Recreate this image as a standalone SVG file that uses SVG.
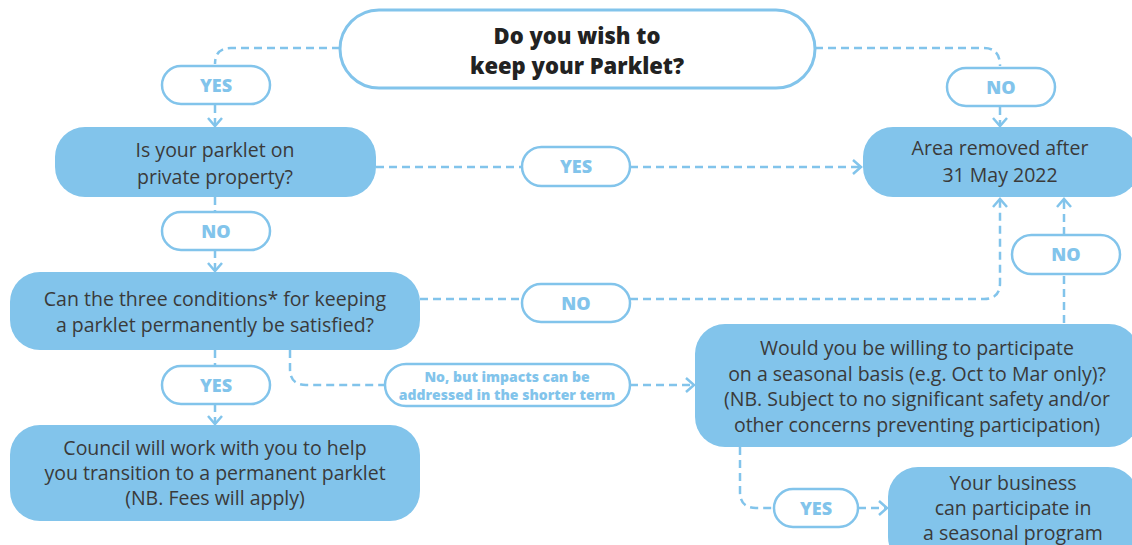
<svg xmlns="http://www.w3.org/2000/svg" width="1132" height="545" viewBox="0 0 1132 545">
  <style>
    .box { fill: #82c4eb; }
    .box-text { font-family: "Open Sans", Lato, sans-serif; font-size: 19.5px; fill: #3a3a3a; text-anchor: middle; }
    .start { fill: #ffffff; stroke: #82c4eb; stroke-width: 3; }
    .start-text { font-family: "Open Sans", "Liberation Sans", sans-serif; font-weight: 800; font-size: 22px; fill: #222222; text-anchor: middle; }
    .tag { fill: #ffffff; stroke: #82c4eb; stroke-width: 2.5; }
    .tag-text { font-family: "Open Sans", "Liberation Sans", sans-serif; font-weight: 800; font-size: 18px; fill: #82c4eb; text-anchor: middle; }
    .tag-small { font-size: 14px; }
    .link { fill: none; stroke: #82c4eb; stroke-width: 2.5; stroke-dasharray: 8 5; }
  </style>
  <defs>
    <marker id="chevron" viewBox="-10 -9 12 18" markerWidth="12" markerHeight="18" refX="0" refY="0" orient="auto" markerUnits="userSpaceOnUse">
      <path d="M-8,-7 L0,0 L-8,7" fill="none" stroke="#82c4eb" stroke-width="2.5"/>
    </marker>
  </defs>

  <!-- connectors -->
  <g id="connectors">
    <path class="link" d="M340,48 H231 Q215,48 215,64"/>
    <path class="link" d="M215,105 V126" marker-end="url(#chevron)"/>
    <path class="link" d="M815,48 H984 Q1000,48 1000,66"/>
    <path class="link" d="M1000,107 V126" marker-end="url(#chevron)"/>
    <path class="link" d="M376,167 H522"/>
    <path class="link" d="M630,167 H861" marker-end="url(#chevron)"/>
    <path class="link" d="M215,197 V212"/>
    <path class="link" d="M215,250 V271" marker-end="url(#chevron)"/>
    <path class="link" d="M420,299 H522"/>
    <path class="link" d="M630,299 H984 Q1000,299 1000,283 V199" marker-end="url(#chevron)"/>
    <path class="link" d="M1064,323 V274"/>
    <path class="link" d="M1064,235 V199" marker-end="url(#chevron)"/>
    <path class="link" d="M215,350 V366"/>
    <path class="link" d="M215,404 V424" marker-end="url(#chevron)"/>
    <path class="link" d="M290,350 V369 Q290,385 306,385 H385"/>
    <path class="link" d="M630,385 H694" marker-end="url(#chevron)"/>
    <path class="link" d="M740,447 V492 Q740,508 756,508 H774"/>
    <path class="link" d="M858,508 H887" marker-end="url(#chevron)"/>
  </g>

  <!-- start question -->
  <g id="keep-parklet">
    <rect class="start" x="340" y="10" width="475" height="78" rx="39"/>
    <text class="start-text" x="577" y="44">Do you wish to</text>
    <text class="start-text" x="577" y="74">keep your Parklet?</text>
  </g>

  <!-- answer tags -->
  <g id="tag-yes-keep">
    <rect class="tag" x="162" y="66" width="108" height="38" rx="19"/>
    <text class="tag-text" x="216" y="92">YES</text>
  </g>
  <g id="tag-no-keep">
    <rect class="tag" x="947" y="68" width="108" height="38" rx="19"/>
    <text class="tag-text" x="1001" y="94">NO</text>
  </g>
  <g id="tag-yes-private">
    <rect class="tag" x="522" y="147" width="108" height="39" rx="19.5"/>
    <text class="tag-text" x="576" y="173">YES</text>
  </g>
  <g id="tag-no-private">
    <rect class="tag" x="162" y="212" width="108" height="38" rx="19"/>
    <text class="tag-text" x="216" y="238">NO</text>
  </g>
  <g id="tag-no-conditions">
    <rect class="tag" x="522" y="284" width="108" height="38" rx="19"/>
    <text class="tag-text" x="576" y="310">NO</text>
  </g>
  <g id="tag-no-seasonal">
    <rect class="tag" x="1012" y="235" width="108" height="39" rx="19.5"/>
    <text class="tag-text" x="1066" y="261">NO</text>
  </g>
  <g id="tag-yes-conditions">
    <rect class="tag" x="162" y="366" width="108" height="38" rx="19"/>
    <text class="tag-text" x="216" y="392">YES</text>
  </g>
  <g id="tag-shorter-term">
    <rect class="tag" x="385" y="364" width="245" height="42" rx="21"/>
    <text class="tag-text tag-small" x="507" y="382">No, but impacts can be</text>
    <text class="tag-text tag-small" x="507" y="400">addressed in the shorter term</text>
  </g>
  <g id="tag-yes-seasonal">
    <rect class="tag" x="774" y="489" width="84" height="38" rx="19"/>
    <text class="tag-text" x="816" y="515">YES</text>
  </g>

  <!-- process boxes -->
  <g id="private-property">
    <rect class="box" x="55" y="127" width="321" height="70" rx="30"/>
    <text class="box-text" x="215" y="157">Is your parklet on</text>
    <text class="box-text" x="215" y="184">private property?</text>
  </g>
  <g id="area-removed">
    <rect class="box" x="863" y="127" width="276" height="70" rx="30"/>
    <text class="box-text" x="1000" y="155">Area removed after</text>
    <text class="box-text" x="1000" y="182">31 May 2022</text>
  </g>
  <g id="three-conditions">
    <rect class="box" x="10" y="272" width="410" height="78" rx="30"/>
    <text class="box-text" x="215" y="306">Can the three conditions* for keeping</text>
    <text class="box-text" x="215" y="332">a parklet permanently be satisfied?</text>
  </g>
  <g id="permanent-transition">
    <rect class="box" x="10" y="425" width="410" height="96" rx="30"/>
    <text class="box-text" x="215" y="455">Council will work with you to help</text>
    <text class="box-text" x="215" y="480">you transition to a permanent parklet</text>
    <text class="box-text" x="215" y="505">(NB. Fees will apply)</text>
  </g>
  <g id="seasonal-basis">
    <rect class="box" x="695" y="324" width="444" height="123" rx="30"/>
    <text class="box-text" x="917" y="355">Would you be willing to participate</text>
    <text class="box-text" x="917" y="381">on a seasonal basis (e.g. Oct to Mar only)?</text>
    <text class="box-text" x="917" y="406">(NB. Subject to no significant safety and/or</text>
    <text class="box-text" x="917" y="432">other concerns preventing participation)</text>
  </g>
  <g id="seasonal-program">
    <rect class="box" x="888" y="467" width="250" height="100" rx="30"/>
    <text class="box-text" x="1013" y="490">Your business</text>
    <text class="box-text" x="1013" y="515">can participate in</text>
    <text class="box-text" x="1013" y="540">a seasonal program</text>
  </g>
</svg>
